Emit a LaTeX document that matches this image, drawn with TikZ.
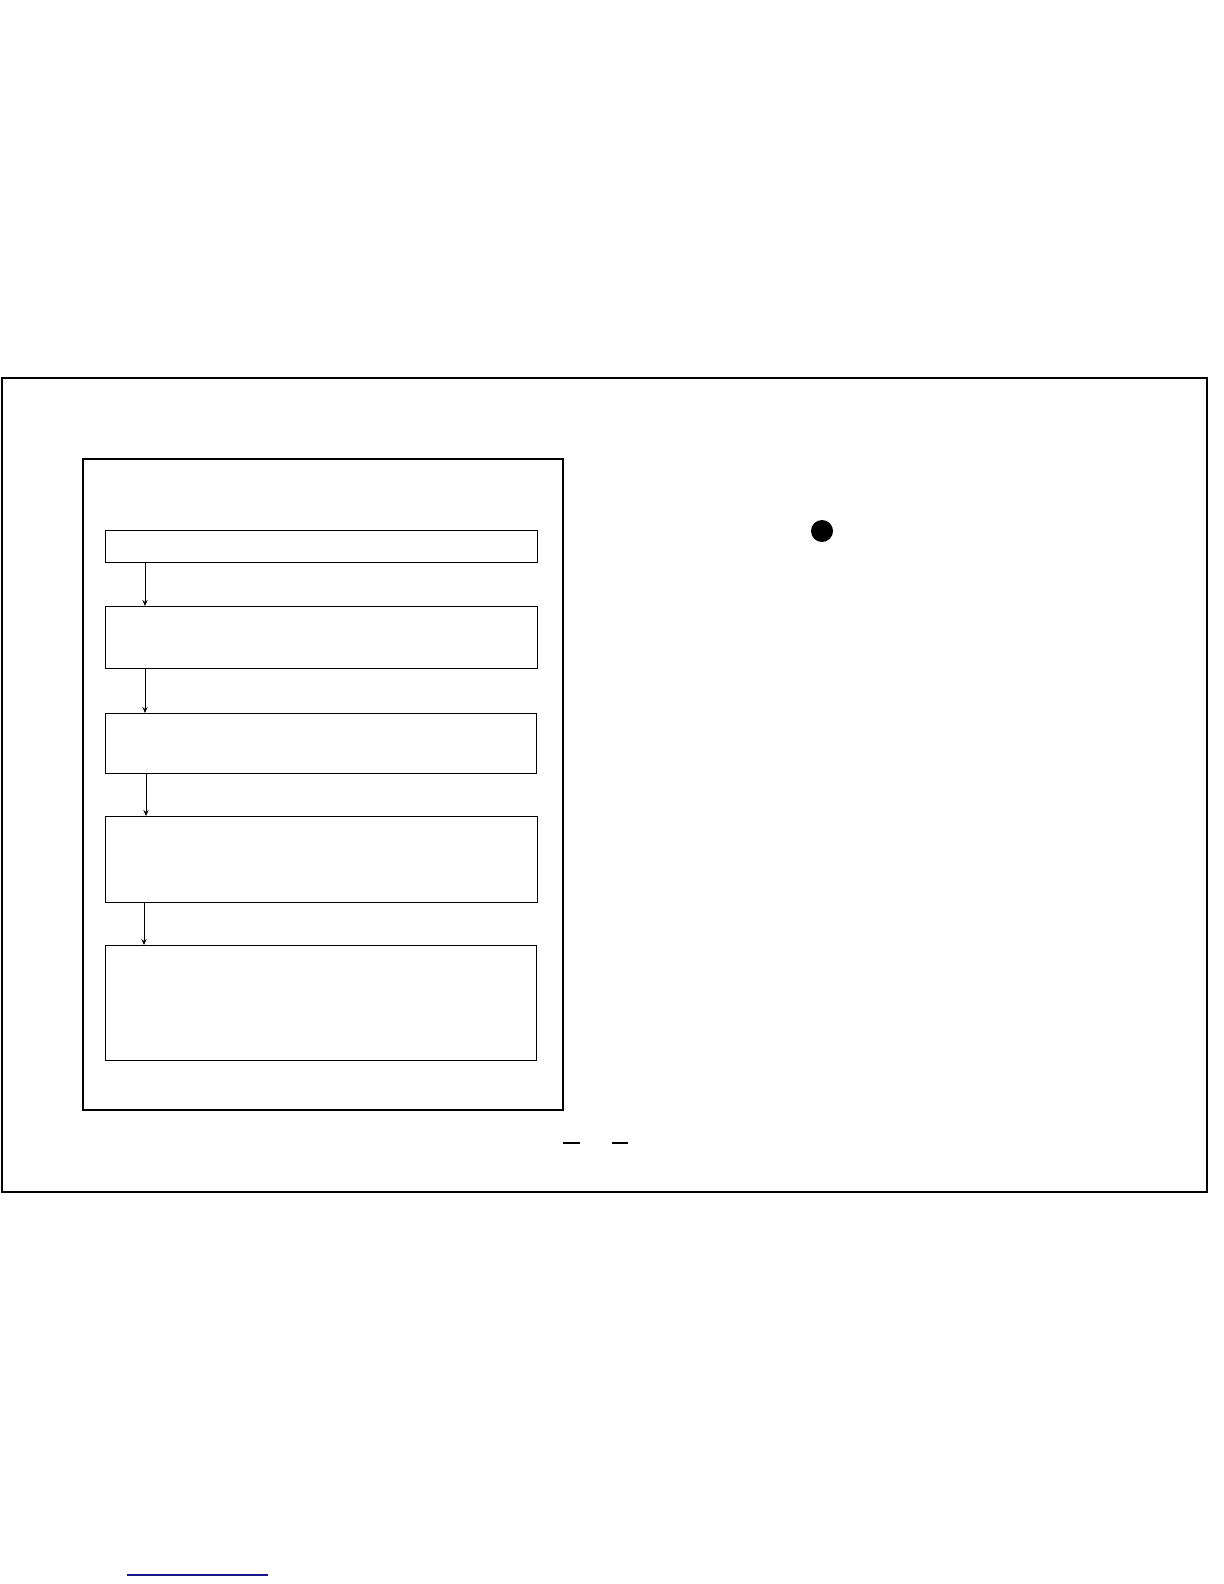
\documentclass[tikz,border=0pt]{standalone}
\usetikzlibrary{arrows.meta}

\tikzset{
  flowbox/.style={draw, line width=0.6bp, rectangle, inner sep=0pt, anchor=north west},
  flowarrow/.style={line width=0.5bp, -{Stealth[length=3bp,width=2.6bp]}}
}

\begin{document}
\begin{tikzpicture}[x=0.5bp, y=-0.5bp]
                \useasboundingbox (0,0) rectangle (1224,1584);
                \draw[line width=1bp] (2,378) rectangle (1207,1192);
                \draw[line width=0.6bp] (83,459) rectangle (563,1110);
                \node[flowbox, minimum width=216bp, minimum height=16bp] (stepA) at (105,530) {};
                \node[flowbox, minimum width=216bp, minimum height=31bp] (stepB) at (105,606) {};
                \node[flowbox, minimum width=215.5bp, minimum height=30bp] (stepC) at (105,713) {};
                \node[flowbox, minimum width=216bp, minimum height=43bp] (stepD) at (105,816) {};
                \node[flowbox, minimum width=215.5bp, minimum height=57.5bp] (stepE) at (105,945) {};
                \coordinate (colA) at (145,0);
                \coordinate (colB) at (146,0);
                \coordinate (colC) at (144,0);
                \draw[flowarrow] (stepA.south -| colA) -- (stepB.north -| colA);
                \draw[flowarrow] (stepB.south -| colA) -- (stepC.north -| colA);
                \draw[flowarrow] (stepC.south -| colB) -- (stepD.north -| colB);
                \draw[flowarrow] (stepD.south -| colC) -- (stepE.north -| colC);
                \fill (822,531) circle (5.5bp);
                \draw[line width=0.6bp] (563,1143) -- (580,1143);
                \draw[line width=0.6bp] (612,1143) -- (628,1143);
                \draw[line width=0.6bp, color={rgb,255:red,20;green,20;blue,140}] (127,1575) -- (268,1575);
            \end{tikzpicture}
\end{document}
